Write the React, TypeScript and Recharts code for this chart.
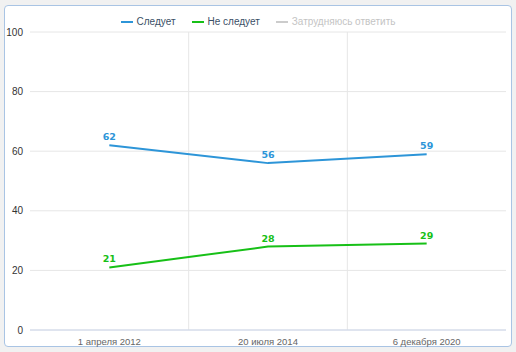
import { LineChart, Line, XAxis, YAxis, CartesianGrid, LabelList } from "recharts";

const dates = ["1 апреля 2012", "20 июля 2014", "6 декабря 2020"];
const follows = [62, 56, 59];
const notFollows = [21, 28, 29];
const yTicks = [0, 20, 40, 60, 80, 100];

const legendItems = [
    { name: "Следует", color: "#2d95d8", text: "#3b4f66" },
    { name: "Не следует", color: "#17c017", text: "#3b4f66" },
    { name: "Затрудняюсь ответить", color: "#cccccc", text: "#c4c4c4" },
];

const data = dates.map((d, i) => ({ name: d, follows: follows[i], notFollows: notFollows[i] }));

export default function App() {
    return (
        <div style={{ position: "absolute", left: 0, top: 0, width: 516, height: 352, background: "#f1f1f1", fontFamily: "'Liberation Sans', Arial, sans-serif" }}>
            <div style={{ position: "absolute", left: 4, top: 5, width: 506, height: 340, background: "#fff", border: "1px solid #a9c4e4", borderRadius: 4 }} />
            <div style={{ position: "absolute", left: 0, top: 16, width: 516, display: "flex", justifyContent: "center", gap: 16, fontSize: 10 }}>
                {legendItems.map((it) => (
                    <div key={it.name} style={{ display: "flex", alignItems: "center", gap: 4, color: it.text }}>
                        <span style={{ display: "inline-block", width: 12, height: 2, background: it.color }} />
                        <span>{it.name}</span>
                    </div>
                ))}
            </div>
            <div style={{ position: "absolute", left: 0, top: 0 }}>
                <LineChart width={516} height={352} data={data} margin={{ top: 32, right: 10, left: 0, bottom: 0 }}>
                    <CartesianGrid
                        stroke="#e6e6e6"
                        verticalCoordinatesGenerator={({ offset }: any) =>
                            dates.slice(1).map((_, i) => offset.left + ((i + 1) * offset.width) / dates.length)
                        }
                    />
                    <XAxis
                        dataKey="name"
                        scale="band"
                        height={22}
                        stroke="#ccd6eb"
                        tickLine={false}
                        tick={{ fill: "#666", fontSize: 9.5 }}
                        tickMargin={2}
                    />
                    <YAxis
                        domain={[0, 100]}
                        ticks={yTicks}
                        width={30}
                        axisLine={false}
                        tickLine={false}
                        tickSize={0}
                        tickMargin={7}
                        tick={{ fill: "#333", fontSize: 10 }}
                    />
                    <Line dataKey="follows" stroke="#2d95d8" strokeWidth={2} dot={false} isAnimationActive={false}>
                        <LabelList dataKey="follows" position="top" offset={5} fill="#2d95d8" fontSize={9.5} fontWeight="bold" fontFamily="'DejaVu Sans', sans-serif" />
                    </Line>
                    <Line dataKey="notFollows" stroke="#17c017" strokeWidth={2} dot={false} isAnimationActive={false}>
                        <LabelList dataKey="notFollows" position="top" offset={5} fill="#17c017" fontSize={9.5} fontWeight="bold" fontFamily="'DejaVu Sans', sans-serif" />
                    </Line>
                </LineChart>
            </div>
        </div>
    );
}
